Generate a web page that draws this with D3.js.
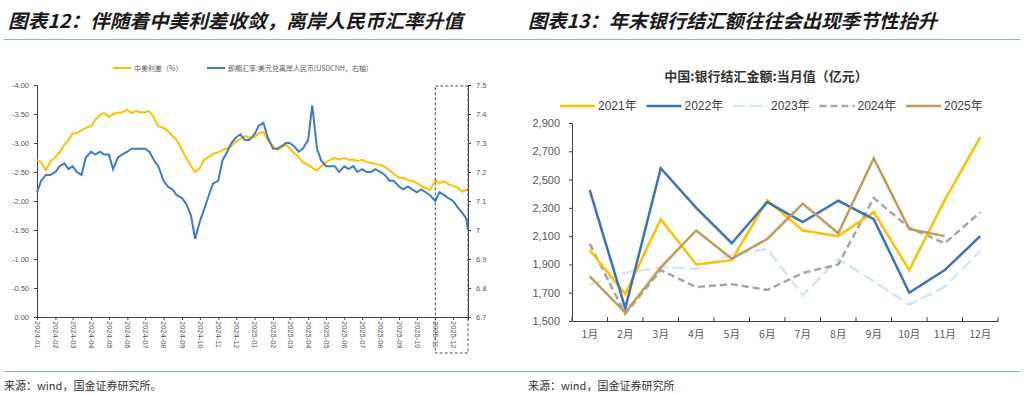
<!DOCTYPE html>
<html>
<head>
<meta charset="utf-8">
<script src="https://cdn.jsdelivr.net/npm/d3@7"></script>
<style>
  body { margin: 0; background: #fff; }
  svg { display: block; }
  text { font-family: "Liberation Sans", Arial, "Noto Sans CJK SC", sans-serif; }
  .cjk { font-family: "Noto Sans CJK SC", sans-serif; }
</style>
</head>
<body>
<div id="chart"></div>
<script>
// ---- left chart: spread vs USDCNH (roughly weekly)
const fxDates = [
  "2024-01-01","2024-01-08","2024-01-16","2024-01-23",
  "2024-02-01","2024-02-08","2024-02-16","2024-02-23",
  "2024-03-01","2024-03-08","2024-03-16","2024-03-23",
  "2024-04-01","2024-04-08","2024-04-16","2024-04-23",
  "2024-05-01","2024-05-08","2024-05-16","2024-05-23",
  "2024-06-01","2024-06-08","2024-06-16","2024-06-23",
  "2024-07-01","2024-07-08","2024-07-16","2024-07-23",
  "2024-08-01","2024-08-08","2024-08-16","2024-08-23",
  "2024-09-01","2024-09-08","2024-09-16","2024-09-23",
  "2024-10-01","2024-10-08","2024-10-16","2024-10-23",
  "2024-11-01","2024-11-08","2024-11-16","2024-11-23",
  "2024-12-01","2024-12-08","2024-12-16","2024-12-23",
  "2025-01-01","2025-01-08","2025-01-16","2025-01-23",
  "2025-02-01","2025-02-08","2025-02-16","2025-02-23",
  "2025-03-01","2025-03-08","2025-03-16","2025-03-23",
  "2025-04-01","2025-04-08","2025-04-16","2025-04-23",
  "2025-05-01","2025-05-08","2025-05-16","2025-05-23",
  "2025-06-01","2025-06-08","2025-06-16","2025-06-23",
  "2025-07-01","2025-07-08","2025-07-16","2025-07-23",
  "2025-08-01","2025-08-08","2025-08-16","2025-08-23",
  "2025-09-01","2025-09-08","2025-09-16","2025-09-23",
  "2025-10-01","2025-10-08","2025-10-16","2025-10-23",
  "2025-11-01","2025-11-08","2025-11-16","2025-11-23",
  "2025-12-01","2025-12-08","2025-12-16","2025-12-23","2025-12-26"
];

// 中美利差 (%), left axis (reversed)
const spreadValues = [
  -2.71, -2.67, -2.53, -2.67,
  -2.76, -2.84, -2.97, -3.05,
  -3.17, -3.17, -3.22, -3.26,
  -3.29, -3.40, -3.48, -3.52,
  -3.45, -3.50, -3.52, -3.53,
  -3.57, -3.52, -3.55, -3.53,
  -3.53, -3.55, -3.43, -3.29,
  -3.26, -3.21, -3.12, -3.05,
  -2.88, -2.74, -2.60, -2.50,
  -2.57, -2.71, -2.76, -2.81,
  -2.84, -2.88, -2.91, -2.95,
  -3.03, -3.07, -3.12, -3.09,
  -3.10, -3.17, -3.19, -3.05,
  -2.95, -2.88, -2.93, -2.97,
  -2.91, -2.83, -2.76, -2.67,
  -2.62, -2.57, -2.53, -2.60,
  -2.67, -2.71, -2.74, -2.72,
  -2.74, -2.71, -2.71, -2.69,
  -2.71, -2.67, -2.66, -2.64,
  -2.62, -2.59, -2.53, -2.47,
  -2.40, -2.40, -2.36, -2.35,
  -2.31, -2.26, -2.22, -2.19,
  -2.36, -2.31, -2.34, -2.29,
  -2.26, -2.24, -2.16, -2.19, -2.19
];

// USDCNH, right axis
const cnhValues = [
  7.13, 7.17, 7.19, 7.19,
  7.20, 7.22, 7.23, 7.21,
  7.22, 7.20, 7.19, 7.25,
  7.27, 7.26, 7.27, 7.26,
  7.26, 7.21, 7.25, 7.26,
  7.27, 7.28, 7.28, 7.28,
  7.28, 7.27, 7.24, 7.22,
  7.17, 7.15, 7.14, 7.12,
  7.11, 7.09, 7.05, 6.97,
  7.03, 7.07, 7.12, 7.16,
  7.17, 7.24, 7.27, 7.30,
  7.32, 7.33, 7.31, 7.31,
  7.33, 7.36, 7.37, 7.32,
  7.28, 7.28, 7.29, 7.30,
  7.30, 7.29, 7.27, 7.28,
  7.31, 7.43, 7.28, 7.24,
  7.22, 7.22, 7.22, 7.20,
  7.22, 7.21, 7.22, 7.20,
  7.21, 7.20, 7.20, 7.21,
  7.20, 7.19, 7.17, 7.17,
  7.15, 7.14, 7.15, 7.14,
  7.13, 7.14, 7.13, 7.12,
  7.10, 7.13, 7.12, 7.11,
  7.10, 7.08, 7.06, 7.04, 7.00
];

const spreadTicks = [0, -0.5, -1, -1.5, -2, -2.5, -3, -3.5, -4];
const cnhTicks = [6.7, 6.8, 6.9, 7.0, 7.1, 7.2, 7.3, 7.4, 7.5];

// ---- right chart: 银行结汇金额 当月值 (亿元)
const months = ["1月","2月","3月","4月","5月","6月","7月","8月","9月","10月","11月","12月"];
const yearNames = ["2021年","2022年","2023年","2024年","2025年"];
const fx2021 = [2000, 1690, 2220, 1900, 1930, 2355, 2140, 2100, 2270, 1860, 2355, 2800];
const fx2022 = [2425, 1590, 2580, 2300, 2050, 2340, 2200, 2350, 2220, 1700, 1860, 2100];
const fx2023 = [1755, 1840, 1880, 1870, 1970, 2010, 1680, 1940, 1780, 1615, 1740, 1995];
const fx2024 = [2045, 1550, 1860, 1740, 1760, 1720, 1840, 1900, 2370, 2160, 2050, 2270];
const fx2025 = [1815, 1560, 1880, 2140, 1940, 2080, 2330, 2120, 2650, 2150, 2100];
const settleTicks = [1500, 1700, 1900, 2100, 2300, 2500, 2700, 2900];

const parseDate = d3.timeParse("%Y-%m-%d");
const grey = "#595959";

const svg = d3.select("#chart")
  .append("svg")
  .attr("width", 1024)
  .attr("height", 395);

// ---- titles + rules
function drawTitle(x, txt, len) {
  svg.append("text")
    .attr("class", "cjk")
    .attr("x", x)
    .attr("y", 28)
    .attr("textLength", len)
    .attr("lengthAdjust", "spacingAndGlyphs")
    .style("font-size", "19px")
    .style("font-style", "italic")
    .style("font-weight", 600)
    .style("fill", "#1a1a1a")
    .text(txt);
}
drawTitle(8, "图表12：伴随着中美利差收敛，离岸人民币汇率升值", 455);
drawTitle(528, "图表13：年末银行结汇额往往会出现季节性抬升", 409);

svg.append("line")
  .attr("x1", 4).attr("x2", 1020).attr("y1", 39.5).attr("y2", 39.5)
  .attr("stroke", "#8fb2cb").attr("stroke-width", 1.2);
svg.append("line")
  .attr("x1", 4).attr("x2", 1020).attr("y1", 371.5).attr("y2", 371.5)
  .attr("stroke", "#8fb2cb").attr("stroke-width", 1.2);

svg.append("text").attr("class", "cjk")
  .attr("x", 4).attr("y", 390)
  .style("font-size", "11px").style("fill", "#333")
  .text("来源：wind，国金证券研究所。");
svg.append("text").attr("class", "cjk")
  .attr("x", 528).attr("y", 390)
  .style("font-size", "11px").style("fill", "#333")
  .text("来源：wind，国金证券研究所");

// ================= left chart =================
const fxData = fxDates.map(function (d, i) {
  return { date: parseDate(d), spread: spreadValues[i], cnh: cnhValues[i] };
});

const x = d3.scaleTime()
  .domain([parseDate("2024-01-01"), parseDate("2025-12-26")])
  .range([37, 468]);
const yL = d3.scaleLinear().domain([0, -4]).range([317, 85]);
const yR = d3.scaleLinear().domain([6.7, 7.5]).range([317, 85]);

const left = svg.append("g");

const axL = left.append("g")
  .attr("transform", "translate(37,0)")
  .call(d3.axisLeft(yL).tickValues(spreadTicks).tickSizeOuter(0).tickSize(3).tickPadding(5)
    .tickFormat(function (d) { return d.toFixed(2); }));

const axR = left.append("g")
  .attr("transform", "translate(468,0)")
  .call(d3.axisRight(yR).tickValues(cnhTicks).tickSizeOuter(0).tickSize(3).tickPadding(5)
    .tickFormat(function (d) { return String(+d.toFixed(1)); }));

const axX = left.append("g")
  .attr("transform", "translate(0,317)")
  .call(d3.axisBottom(x).ticks(d3.timeMonth.every(1)).tickSizeOuter(0).tickSize(3)
    .tickFormat(d3.timeFormat("%Y-%m")));
axX.selectAll("text")
  .attr("x", 4)
  .attr("y", 0)
  .attr("dy", "0.35em")
  .attr("transform", "rotate(90)")
  .style("text-anchor", "start");

[axL, axR, axX].forEach(function (a) {
  a.selectAll("text").style("font-size", "7.5px").style("fill", grey);
  a.selectAll("path, line").attr("stroke", "#404040");
});

const spreadLine = d3.line()
  .x(function (d) { return x(d.date); })
  .y(function (d) { return yL(d.spread); });
const cnhLine = d3.line()
  .x(function (d) { return x(d.date); })
  .y(function (d) { return yR(d.cnh); });

left.append("path").datum(fxData)
  .attr("d", spreadLine)
  .attr("fill", "none").attr("stroke", "#ffc000").attr("stroke-width", 2);
left.append("path").datum(fxData)
  .attr("d", cnhLine)
  .attr("fill", "none").attr("stroke", "#3f7cc0").attr("stroke-width", 2);

// highlight box for the last two months
const boxX = x(parseDate("2025-11-01"));
left.append("rect")
  .attr("x", boxX).attr("y", 86)
  .attr("width", 468 - boxX).attr("height", 353 - 86)
  .attr("fill", "none").attr("stroke", "#44546a")
  .attr("stroke-width", 1).attr("stroke-dasharray", "3,2");

// legend
const legL = [
  { label: "中美利差（%）", color: "#ffc000", x: 113 },
  { label: "即期汇率:美元兑离岸人民币(USDCNH，右轴)", color: "#3f7cc0", x: 207 }
];
legL.forEach(function (l) {
  left.append("line")
    .attr("x1", l.x).attr("x2", l.x + 18).attr("y1", 68).attr("y2", 68)
    .attr("stroke", l.color).attr("stroke-width", 2);
  left.append("text").attr("class", "cjk")
    .attr("x", l.x + 21).attr("y", 70.5)
    .style("font-size", "7px").style("fill", grey)
    .text(l.label);
});

// ================= right chart =================
const right = svg.append("g");

const xb = d3.scaleBand().domain(months).range([572, 998]).padding(0);
const yS = d3.scaleLinear().domain([1500, 2900]).range([321, 123]);

const axS = right.append("g")
  .attr("transform", "translate(572,0)")
  .call(d3.axisLeft(yS).tickValues(settleTicks).tickSizeOuter(0).tickSize(3).tickPadding(9)
    .tickFormat(d3.format(",")));
axS.selectAll("text").style("font-size", "11px").style("fill", grey);

const axM = right.append("g")
  .attr("transform", "translate(0,321)")
  .call(d3.axisBottom(xb).tickSize(0).tickSizeOuter(0).tickPadding(10));
axM.selectAll("text").attr("class", "cjk").style("font-size", "10.5px").style("fill", grey);

// month boundary ticks, pointing up into the plot
right.append("g")
  .selectAll("line")
  .data(months.concat(["end"]))
  .enter()
  .append("line")
  .attr("x1", function (d) { return d === "end" ? 998 : xb(d); })
  .attr("x2", function (d) { return d === "end" ? 998 : xb(d); })
  .attr("y1", 321).attr("y2", 317);

[axS, axM].forEach(function (a) { a.selectAll("path, line").attr("stroke", "#404040"); });
right.selectAll("g > line").attr("stroke", "#404040");

const series = [
  { name: yearNames[0], values: fx2021, color: "#ffc000", dash: null },
  { name: yearNames[1], values: fx2022, color: "#3d72b4", dash: null },
  { name: yearNames[2], values: fx2023, color: "#d5e5f4", dash: "12,5" },
  { name: yearNames[3], values: fx2024, color: "#a6a6a6", dash: "7,4" },
  { name: yearNames[4], values: fx2025, color: "#bf9d5e", dash: null }
];

const monthLine = d3.line()
  .x(function (d, i) { return xb(months[i]) + xb.bandwidth() / 2; })
  .y(function (d) { return yS(d); });

// draw light series first so the solid ones sit on top
[2, 3, 0, 1, 4].forEach(function (k) {
  const s = series[k];
  right.append("path").datum(s.values)
    .attr("d", monthLine)
    .attr("fill", "none")
    .attr("stroke", s.color)
    .attr("stroke-width", 2.5)
    .attr("stroke-dasharray", s.dash);
});

right.append("text").attr("class", "cjk")
  .attr("x", 766).attr("y", 81)
  .style("font-size", "13px").style("font-weight", 700).style("fill", "#333")
  .style("text-anchor", "middle")
  .text("中国:银行结汇金额:当月值（亿元）");

series.forEach(function (s, i) {
  const lx = 560 + i * 86.5;
  right.append("line")
    .attr("x1", lx).attr("x2", lx + 35).attr("y1", 106).attr("y2", 106)
    .attr("stroke", s.color).attr("stroke-width", 2.5)
    .attr("stroke-dasharray", s.dash);
  right.append("text")
    .attr("x", lx + 38).attr("y", 110)
    .style("font-size", "12px").style("fill", "#404040")
    .text(s.name);
});
</script>
</body>
</html>
